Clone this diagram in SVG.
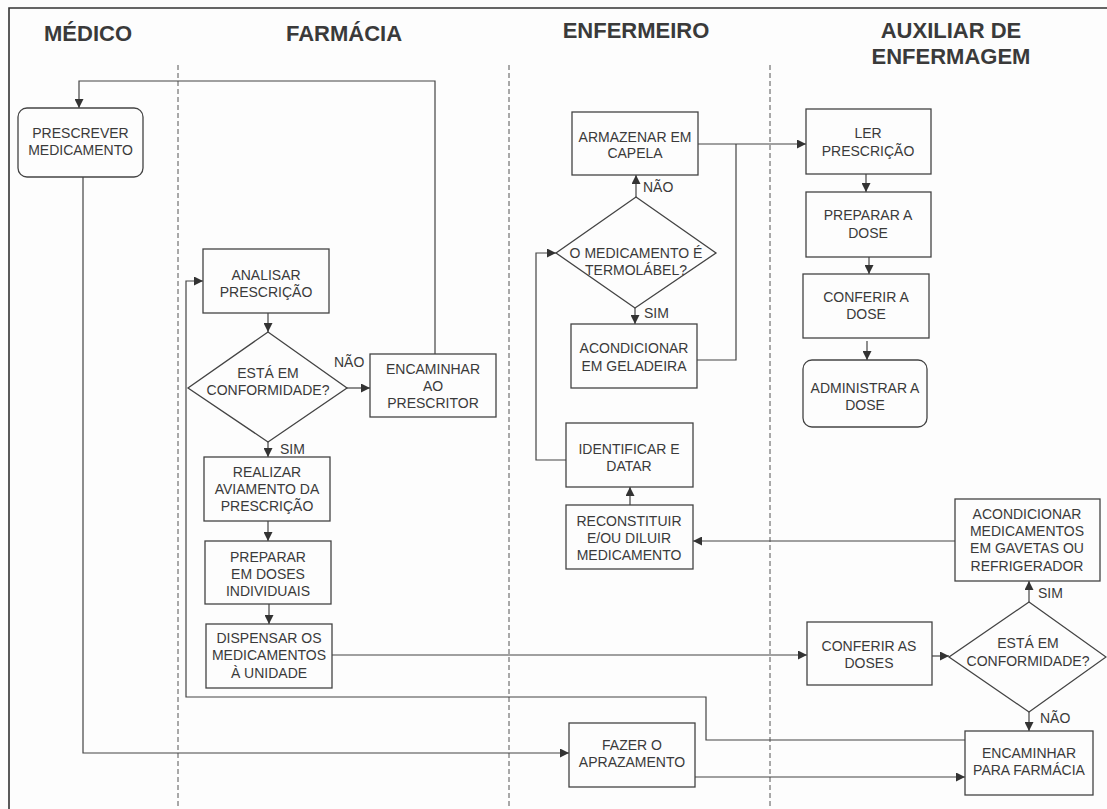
<svg xmlns="http://www.w3.org/2000/svg" width="1107" height="809" viewBox="0 0 1107 809">
<defs>
<marker id="ah" viewBox="0 0 10 10" refX="10" refY="5" markerWidth="9" markerHeight="9" markerUnits="userSpaceOnUse" orient="auto">
<path d="M0,0 L10,5 L0,10 z" fill="#333"/>
</marker>
<style>
.bg{fill:#fdfdfd}
.frame{stroke:#333;stroke-width:1.6;fill:none}
.lane{stroke:#555;stroke-width:1;stroke-dasharray:5,3;fill:none}
.title{font-family:"Liberation Sans",Arial,sans-serif;font-size:22px;font-weight:bold;fill:#3a3a3a;text-anchor:middle}
.box{fill:#fdfdfd;stroke:#444;stroke-width:1.3}
.t{font-family:"Liberation Sans",Arial,sans-serif;font-size:14px;fill:#3a3a3a;text-anchor:middle}
.lbl{font-family:"Liberation Sans",Arial,sans-serif;font-size:14px;fill:#3a3a3a}
.c{fill:none;stroke:#444;stroke-width:1.2}
.a{marker-end:url(#ah)}
</style>
</defs>
<rect class="bg" x="0" y="0" width="1107" height="809"/>
<path class="frame" d="M9,809 V8 H1107"/>
<g id="lanes">
<line class="lane" x1="178" y1="65" x2="178" y2="809"/>
<line class="lane" x1="509" y1="65" x2="509" y2="809"/>
<line class="lane" x1="770" y1="65" x2="770" y2="809"/>
</g>
<g id="titles">
<text class="title" x="88" y="41">MÉDICO</text>
<text class="title" x="344" y="41">FARMÁCIA</text>
<text class="title" x="636" y="38">ENFERMEIRO</text>
<text class="title" x="951" y="38">AUXILIAR DE</text>
<text class="title" x="951" y="64">ENFERMAGEM</text>
</g>
<g id="connectors">
<polyline class="c a" points="83,177 83,753 569,753"/>
<polyline class="c a" points="435,354 435,81 79,81 79,108"/>
<line class="c a" x1="268" y1="313" x2="268" y2="332"/>
<line class="c a" x1="347" y1="388" x2="370" y2="388"/>
<line class="c a" x1="268" y1="442" x2="268" y2="457"/>
<line class="c a" x1="268" y1="521" x2="268" y2="541"/>
<line class="c a" x1="269" y1="604" x2="269" y2="624"/>
<line class="c a" x1="332" y1="655" x2="807" y2="655"/>
<line class="c a" x1="932" y1="656" x2="949" y2="656"/>
<line class="c a" x1="1029" y1="602" x2="1029" y2="581"/>
<line class="c a" x1="1029" y1="712" x2="1029" y2="731"/>
<line class="c a" x1="955" y1="541" x2="693" y2="541"/>
<line class="c a" x1="630" y1="505" x2="630" y2="487"/>
<polyline class="c a" points="566,460 536,460 536,253 556,253"/>
<line class="c a" x1="636" y1="197" x2="636" y2="175"/>
<line class="c a" x1="635" y1="308" x2="635" y2="324"/>
<polyline class="c" points="697,360 736,360 736,144"/>
<line class="c a" x1="698" y1="144" x2="806" y2="144"/>
<line class="c a" x1="866" y1="174" x2="866" y2="192"/>
<line class="c a" x1="869" y1="257" x2="869" y2="274"/>
<line class="c a" x1="867" y1="341" x2="867" y2="360"/>
<polyline class="c a" points="965,740 706,740 706,697 186,697 186,281 203,281"/>
<line class="c a" x1="695" y1="777" x2="965" y2="777"/>
</g>
<g id="edge-labels">
<text class="lbl" x="334" y="367">NÃO</text>
<text class="lbl" x="280" y="454">SIM</text>
<text class="lbl" x="643" y="192">NÃO</text>
<text class="lbl" x="644" y="318">SIM</text>
<text class="lbl" x="1038" y="598">SIM</text>
<text class="lbl" x="1040" y="723">NÃO</text>
</g>
<g id="prescrever">
<rect class="box" x="18" y="108" width="125" height="69" rx="9"/>
<text class="t" x="80.5" y="138">PRESCREVER</text>
<text class="t" x="80.5" y="155">MEDICAMENTO</text>
</g>
<g id="analisar">
<rect class="box" x="203" y="249" width="126" height="64"/>
<text class="t" x="266" y="280">ANALISAR</text>
<text class="t" x="266" y="297">PRESCRIÇÃO</text>
</g>
<g id="conformidade1">
<polygon class="box" points="268,332 347,388 268,442 188,388"/>
<text class="t" x="268" y="378">ESTÁ EM</text>
<text class="t" x="268" y="395">CONFORMIDADE?</text>
</g>
<g id="encaminhar-prescritor">
<rect class="box" x="370" y="354" width="126" height="63"/>
<text class="t" x="433" y="374">ENCAMINHAR</text>
<text class="t" x="433" y="391">AO</text>
<text class="t" x="433" y="408">PRESCRITOR</text>
</g>
<g id="realizar">
<rect class="box" x="204" y="457" width="126" height="64"/>
<text class="t" x="267" y="477">REALIZAR</text>
<text class="t" x="267" y="494">AVIAMENTO DA</text>
<text class="t" x="267" y="511">PRESCRIÇÃO</text>
</g>
<g id="preparar-doses">
<rect class="box" x="205" y="541" width="126" height="63"/>
<text class="t" x="268" y="562">PREPARAR</text>
<text class="t" x="268" y="579">EM DOSES</text>
<text class="t" x="268" y="596">INDIVIDUAIS</text>
</g>
<g id="dispensar">
<rect class="box" x="206" y="624" width="126" height="64"/>
<text class="t" x="269" y="643">DISPENSAR OS</text>
<text class="t" x="269" y="660">MEDICAMENTOS</text>
<text class="t" x="269" y="678">À UNIDADE</text>
</g>
<g id="armazenar">
<rect class="box" x="572" y="112" width="126" height="63"/>
<text class="t" x="635" y="142">ARMAZENAR EM</text>
<text class="t" x="635" y="158">CAPELA</text>
</g>
<g id="termolabel">
<polygon class="box" points="636,197 716,253 635,308 556,253"/>
<text class="t" x="636" y="258">O MEDICAMENTO É</text>
<text class="t" x="636" y="275">TERMOLÁBEL?</text>
</g>
<g id="geladeira">
<rect class="box" x="571" y="324" width="126" height="64"/>
<text class="t" x="634" y="353">ACONDICIONAR</text>
<text class="t" x="634" y="371">EM GELADEIRA</text>
</g>
<g id="identificar">
<rect class="box" x="566" y="423" width="127" height="64"/>
<text class="t" x="629" y="454">IDENTIFICAR E</text>
<text class="t" x="629" y="471">DATAR</text>
</g>
<g id="reconstituir">
<rect class="box" x="566" y="505" width="127" height="64"/>
<text class="t" x="629" y="526">RECONSTITUIR</text>
<text class="t" x="629" y="543">E/OU DILUIR</text>
<text class="t" x="629" y="560">MEDICAMENTO</text>
</g>
<g id="aprazamento">
<rect class="box" x="569" y="723" width="126" height="64"/>
<text class="t" x="632" y="750">FAZER O</text>
<text class="t" x="632" y="767">APRAZAMENTO</text>
</g>
<g id="ler">
<rect class="box" x="806" y="109" width="125" height="65"/>
<text class="t" x="868" y="138">LER</text>
<text class="t" x="868" y="156">PRESCRIÇÃO</text>
</g>
<g id="preparar-dose">
<rect class="box" x="806" y="192" width="125" height="65"/>
<text class="t" x="868" y="220">PREPARAR A</text>
<text class="t" x="868" y="238">DOSE</text>
</g>
<g id="conferir-dose">
<rect class="box" x="803" y="274" width="126" height="64"/>
<text class="t" x="866" y="302">CONFERIR A</text>
<text class="t" x="866" y="319">DOSE</text>
</g>
<g id="administrar">
<rect class="box" x="803" y="360" width="124" height="67" rx="9"/>
<text class="t" x="865" y="393">ADMINISTRAR A</text>
<text class="t" x="865" y="410">DOSE</text>
</g>
<g id="acondicionar-medicamentos">
<rect class="box" x="955" y="499" width="145" height="82"/>
<text class="t" x="1027" y="519">ACONDICIONAR</text>
<text class="t" x="1027" y="536">MEDICAMENTOS</text>
<text class="t" x="1027" y="553">EM GAVETAS OU</text>
<text class="t" x="1027" y="571">REFRIGERADOR</text>
</g>
<g id="conformidade2">
<polygon class="box" points="1029,602 1106,657 1029,712 949,657"/>
<text class="t" x="1028" y="648">ESTÁ EM</text>
<text class="t" x="1028" y="666">CONFORMIDADE?</text>
</g>
<g id="conferir-doses">
<rect class="box" x="807" y="622" width="125" height="63"/>
<text class="t" x="869" y="651">CONFERIR AS</text>
<text class="t" x="869" y="668">DOSES</text>
</g>
<g id="encaminhar-farmacia">
<rect class="box" x="965" y="731" width="128" height="64"/>
<text class="t" x="1029" y="758">ENCAMINHAR</text>
<text class="t" x="1029" y="775">PARA FARMÁCIA</text>
</g>
</svg>
